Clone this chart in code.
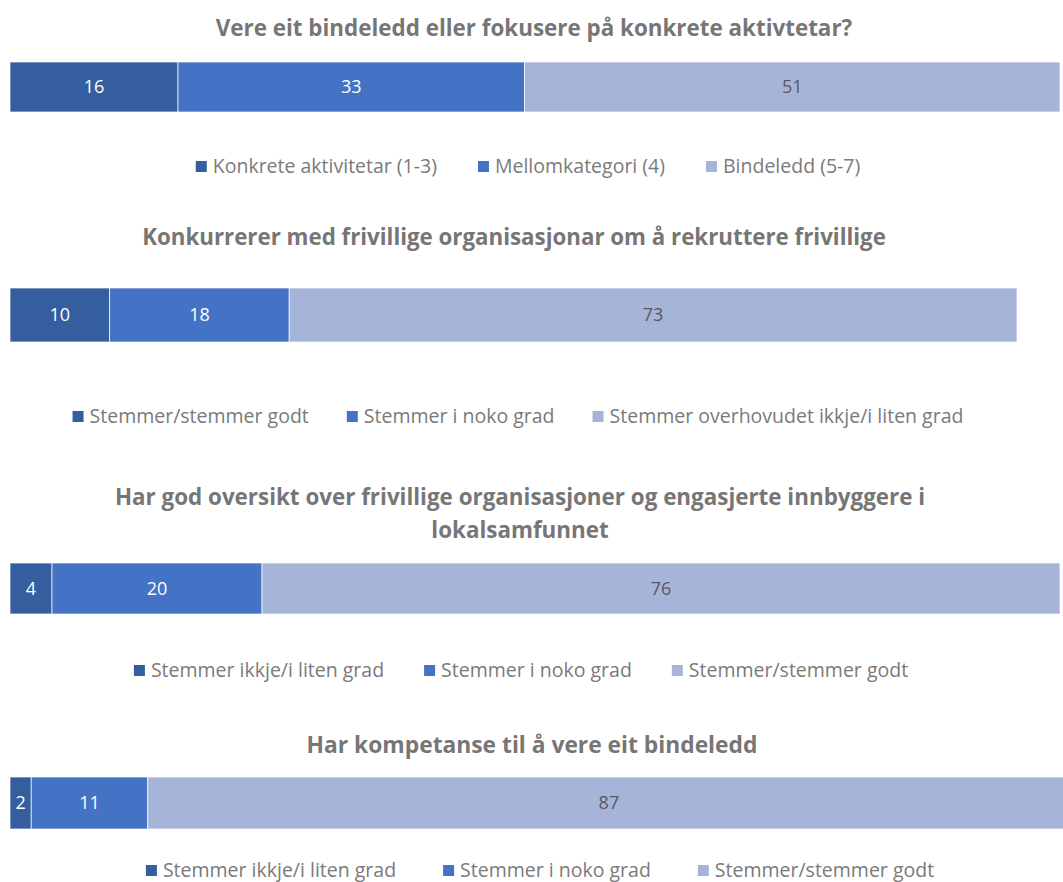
<!DOCTYPE html>
<html>
<head>
<meta charset="utf-8">
<script src="https://cdn.jsdelivr.net/npm/d3@7"></script>
<style>
  html, body { margin: 0; padding: 0; background: #fff; }
  svg text { font-family: "Open Sans", sans-serif; }
</style>
</head>
<body>
<div id="chart"></div>
<script>
'use strict';

// chart titles (one array of lines per chart)
const titles = [
  ['Vere eit bindeledd eller fokusere på konkrete aktivtetar?'],
  ['Konkurrerer med frivillige organisasjonar om å rekruttere frivillige'],
  ['Har god oversikt over frivillige organisasjoner og engasjerte innbyggere i', 'lokalsamfunnet'],
  ['Har kompetanse til å vere eit bindeledd'],
];

// legend names per chart
const seriesNames = [
  ['Konkrete aktivitetar (1-3)', 'Mellomkategori (4)', 'Bindeledd (5-7)'],
  ['Stemmer/stemmer godt', 'Stemmer i noko grad', 'Stemmer overhovudet ikkje/i liten grad'],
  ['Stemmer ikkje/i liten grad', 'Stemmer i noko grad', 'Stemmer/stemmer godt'],
  ['Stemmer ikkje/i liten grad', 'Stemmer i noko grad', 'Stemmer/stemmer godt'],
];

// percentages per chart
const chart1Values = [16, 33, 51];
const chart2Values = [10, 18, 73];
const chart3Values = [4, 20, 76];
const chart4Values = [2, 11, 87];
const values = [chart1Values, chart2Values, chart3Values, chart4Values];

const colors = ['#355E9F', '#4472C4', '#A7B4D9'];
const labelColors = ['#ffffff', '#ffffff', '#595959'];

// layout of each panel (pixels)
const panels = [
  { titleY: 36, titleX: 534, titleSize: 22.4, barY: 62, barH: 50, x0: 10, x1: 1060, legendY: 173, legendX: 528, gap: 41 },
  { titleY: 245, titleX: 514, titleSize: 22.3, barY: 288, barH: 54, x0: 10, x1: 1017, legendY: 423, legendX: 518, gap: 38 },
  { titleY: 505, titleX: 520, titleSize: 22.4, barY: 563, barH: 51, x0: 10, x1: 1060, legendY: 677, legendX: 521, gap: 40 },
  { titleY: 753, titleX: 532, titleSize: 22.8, barY: 777, barH: 52, x0: 10, x1: 1070, legendY: 877, legendX: 540, gap: 47 },
];

const width = 1063;
const height = 882;

const svg = d3
  .select('#chart')
  .append('svg')
  .attr('width', width)
  .attr('height', height);

panels.forEach((p, i) => {
  const vals = values[i];
  const g = svg.append('g').attr('class', 'panel');

  // title
  const title = g
    .append('text')
    .attr('x', p.titleX)
    .attr('y', p.titleY)
    .attr('text-anchor', 'middle')
    .attr('fill', '#767676')
    .style('font-size', p.titleSize + 'px')
    .style('font-weight', 'bold');
  titles[i].forEach((line, j) => {
    title
      .append('tspan')
      .attr('x', p.titleX)
      .attr('dy', j === 0 ? 0 : 33)
      .text(line);
  });

  // stacked bar
  const x = d3
    .scaleLinear()
    .domain([0, d3.sum(vals)])
    .range([p.x0, p.x1]);
  const stacked = vals.map((v, k) => ({
    v,
    k,
    start: d3.sum(vals.slice(0, k)),
  }));

  const seg = g
    .selectAll('.seg')
    .data(stacked)
    .enter()
    .append('g')
    .attr('class', 'seg');

  seg
    .append('rect')
    .attr('x', (d) => x(d.start))
    .attr('y', p.barY)
    .attr('width', (d) => x(d.start + d.v) - x(d.start))
    .attr('height', p.barH)
    .attr('fill', (d) => colors[d.k])
    .attr('stroke', '#ffffff')
    .attr('stroke-width', 0.7);

  seg
    .append('text')
    .attr('x', (d) => x(d.start + d.v / 2))
    .attr('y', p.barY + p.barH / 2)
    .attr('dy', '0.35em')
    .attr('text-anchor', 'middle')
    .attr('fill', (d) => labelColors[d.k])
    .style('font-size', '18px')
    .text((d) => d.v);

  // legend, laid out from measured text widths and centred
  const leg = g.append('g');
  const items = seriesNames[i].map((name, k) => {
    const it = leg.append('g');
    it.append('rect')
      .attr('width', 11)
      .attr('height', 11)
      .attr('y', p.legendY - 12)
      .attr('fill', colors[k]);
    const t = it
      .append('text')
      .attr('x', 17)
      .attr('y', p.legendY)
      .attr('fill', '#7a7a7a')
      .style('font-size', '19.5px')
      .text(name);
    return { it, w: 17 + t.node().getComputedTextLength() };
  });
  const total = d3.sum(items, (d) => d.w) + p.gap * (items.length - 1);
  let cx = p.legendX - total / 2;
  items.forEach((d) => {
    d.it.attr('transform', 'translate(' + cx + ',0)');
    cx += d.w + p.gap;
  });
});
</script>
</body>
</html>
